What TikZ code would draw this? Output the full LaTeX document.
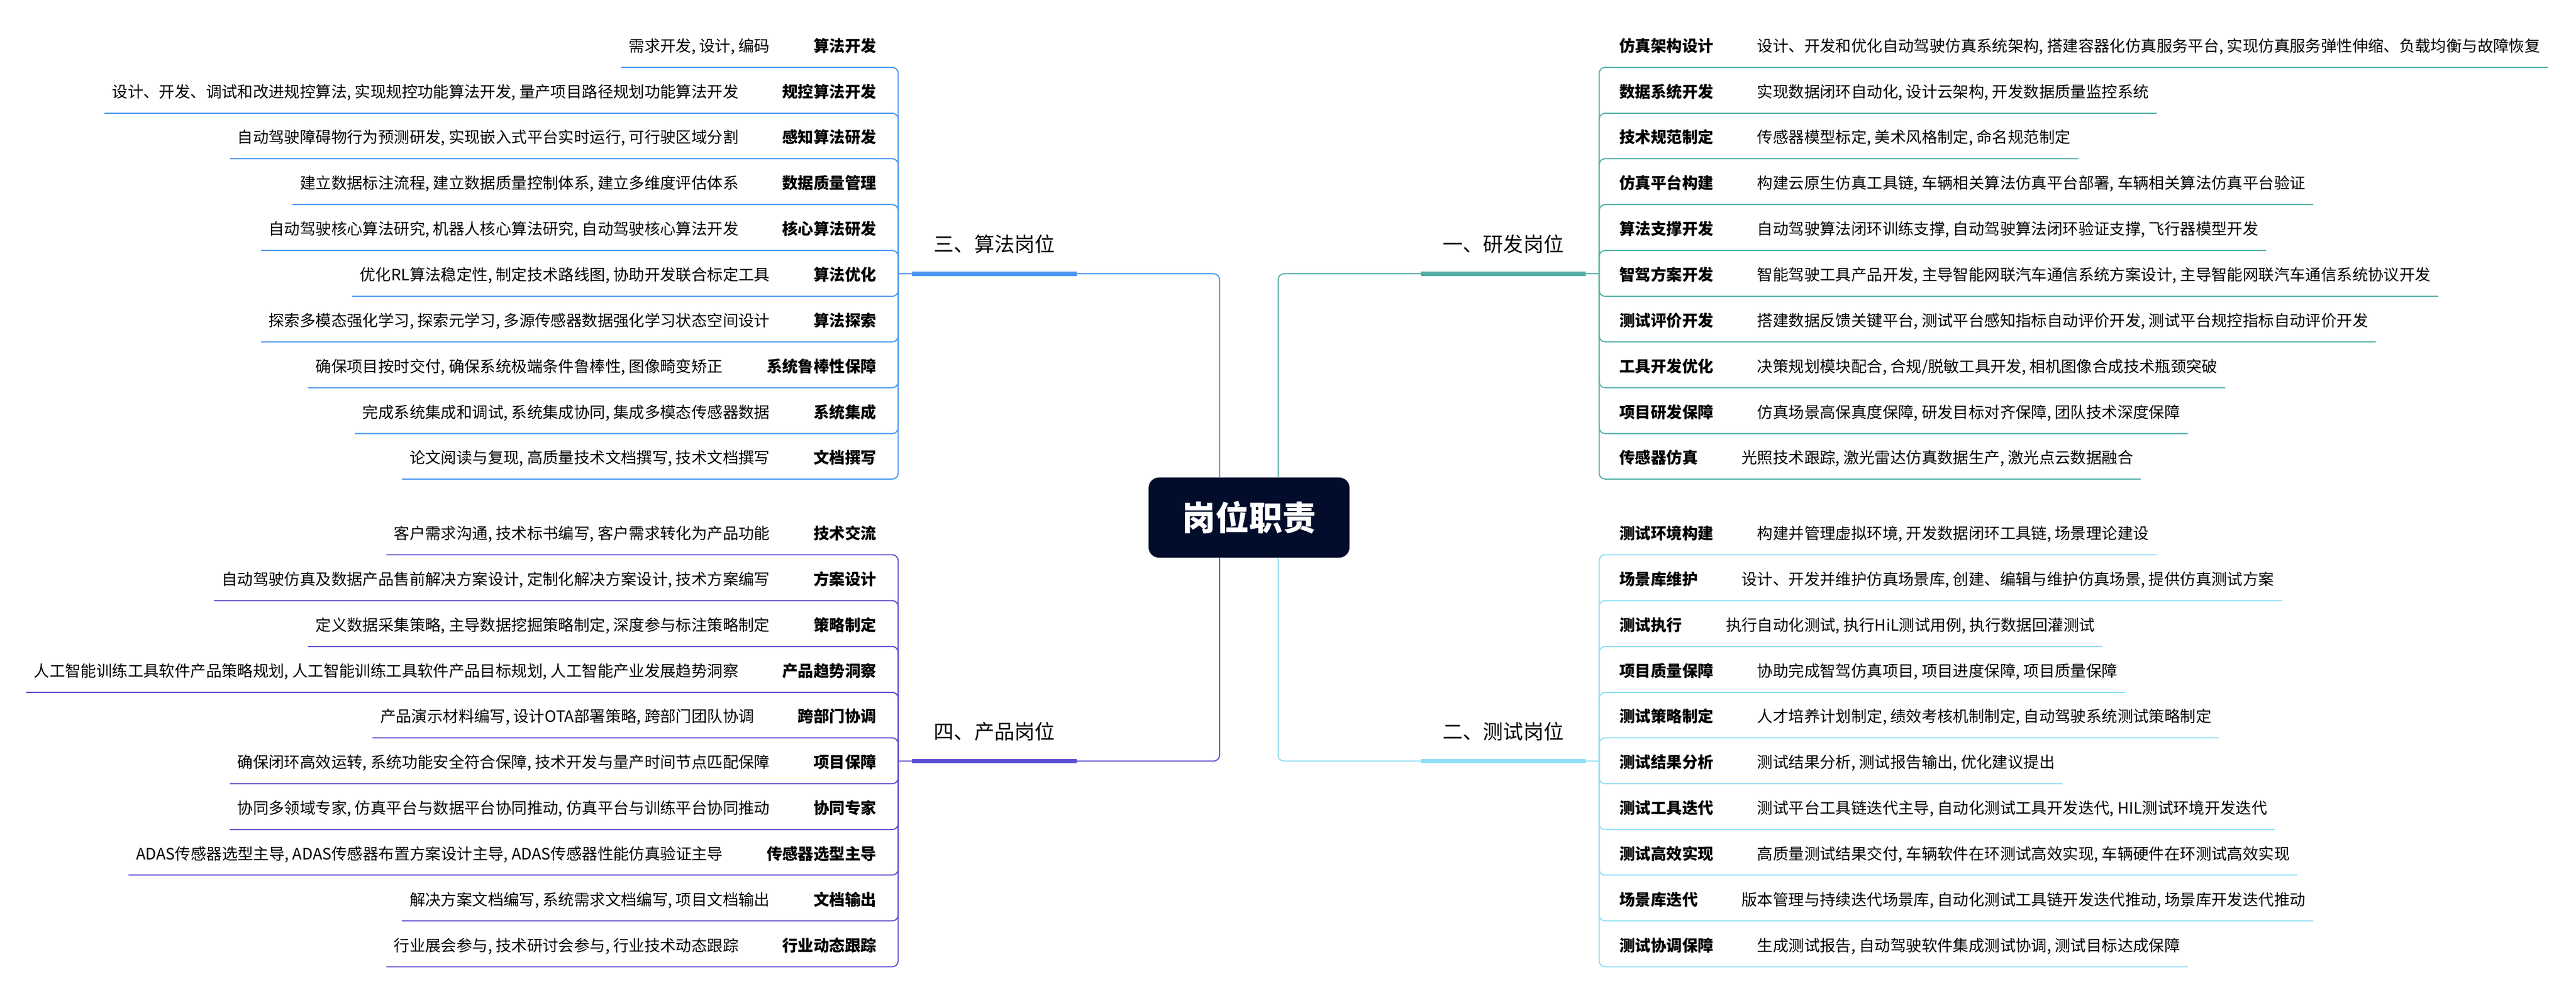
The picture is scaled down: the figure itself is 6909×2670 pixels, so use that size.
\documentclass[tikz,border=0pt]{standalone}
\usepackage{fontspec}
\setmainfont{Noto Sans CJK SC}
\usepackage{tikz}
\usetikzlibrary{calc}

\definecolor{hubnavy}{HTML}{020D2B}
\definecolor{rdteal}{HTML}{52B0A5}
\definecolor{qablue}{HTML}{8DDEF7}
\definecolor{algblue}{HTML}{4A97F1}
\definecolor{pmviolet}{HTML}{5B4FCF}

\tikzset{
  hub/.style={fill=hubnavy,text=white,rounded corners=2.8mm,minimum width=53.9mm,
    minimum height=21.5mm,font=\fontsize{9mm}{10mm}\selectfont\bfseries},
  branch/.style={inner xsep=5.8mm,inner ysep=5.2mm,text height=4.75mm,text depth=.65mm,
    font=\fontsize{5.4mm}{6mm}\selectfont},
  duty/.style={inner sep=0pt,text height=3.7mm,text depth=.5mm,
    font=\fontsize{4.2mm}{5mm}\selectfont\bfseries},
  detail/.style={inner xsep=2mm,inner ysep=3.6mm,text height=3.7mm,text depth=.5mm,
    font=\fontsize{4.2mm}{5mm}\selectfont},
  edge/.style={line width=.3mm,rounded corners=1.6mm},
  bar/.style={line width=1.2mm}
}

\begin{document}
\begin{tikzpicture}[x=.1mm,y=-.1mm]
          \fill[white] (0,0) rectangle (6909,2670);
          \useasboundingbox (0,0) rectangle (6909,2670);

          \node[hub] (hub) at (3350,1388) {岗位职责};

          \coordinate (rdj) at (4289,734);
          \coordinate (qaj) at (4289,2041);
          \coordinate (algj) at (2409,734);
          \coordinate (pmj) at (2409,2041);

          \tikzset{edge/.append style={rdteal},bar/.append style={rdteal}}
          \node[branch,anchor=south] (rd) at (4032,734) {一、研发岗位};
          \draw[edge] ($(hub.north)+(78,0)$) |- (rdj);
          \draw[bar] (rd.south west) -- (rd.south east);

          \node[duty,anchor=west] (rd1) at (4343,123) {仿真架构设计};
          \node[detail,anchor=west] (rd1t) at ($(rd1.east)+(96,0)$) {设计、开发和优化自动驾驶仿真系统架构, 搭建容器化仿真服务平台, 实现仿真服务弹性伸缩、负载均衡与故障恢复};
          \node[duty,anchor=west] (rd2) at (4343,246) {数据系统开发};
          \node[detail,anchor=west] (rd2t) at ($(rd2.east)+(96,0)$) {实现数据闭环自动化, 设计云架构, 开发数据质量监控系统};
          \node[duty,anchor=west] (rd3) at (4343,368) {技术规范制定};
          \node[detail,anchor=west] (rd3t) at ($(rd3.east)+(96,0)$) {传感器模型标定, 美术风格制定, 命名规范制定};
          \node[duty,anchor=west] (rd4) at (4343,491) {仿真平台构建};
          \node[detail,anchor=west] (rd4t) at ($(rd4.east)+(96,0)$) {构建云原生仿真工具链, 车辆相关算法仿真平台部署, 车辆相关算法仿真平台验证};
          \node[duty,anchor=west] (rd5) at (4343,614) {算法支撑开发};
          \node[detail,anchor=west] (rd5t) at ($(rd5.east)+(96,0)$) {自动驾驶算法闭环训练支撑, 自动驾驶算法闭环验证支撑, 飞行器模型开发};
          \node[duty,anchor=west] (rd6) at (4343,737) {智驾方案开发};
          \node[detail,anchor=west] (rd6t) at ($(rd6.east)+(96,0)$) {智能驾驶工具产品开发, 主导智能网联汽车通信系统方案设计, 主导智能网联汽车通信系统协议开发};
          \node[duty,anchor=west] (rd7) at (4343,859) {测试评价开发};
          \node[detail,anchor=west] (rd7t) at ($(rd7.east)+(96,0)$) {搭建数据反馈关键平台, 测试平台感知指标自动评价开发, 测试平台规控指标自动评价开发};
          \node[duty,anchor=west] (rd8) at (4343,982) {工具开发优化};
          \node[detail,anchor=west] (rd8t) at ($(rd8.east)+(96,0)$) {决策规划模块配合, 合规/脱敏工具开发, 相机图像合成技术瓶颈突破};
          \node[duty,anchor=west] (rd9) at (4343,1105) {项目研发保障};
          \node[detail,anchor=west] (rd9t) at ($(rd9.east)+(96,0)$) {仿真场景高保真度保障, 研发目标对齐保障, 团队技术深度保障};
          \node[duty,anchor=west] (rd10) at (4343,1227) {传感器仿真};
          \node[detail,anchor=west] (rd10t) at ($(rd10.east)+(96,0)$) {光照技术跟踪, 激光雷达仿真数据生产, 激光点云数据融合};

          \draw[edge] (rdj) |- (rd1t.south east);
          \draw[edge] (rdj) |- (rd2t.south east);
          \draw[edge] (rdj) |- (rd3t.south east);
          \draw[edge] (rdj) |- (rd4t.south east);
          \draw[edge] (rdj) |- (rd5t.south east);
          \draw[edge] (rdj) |- (rd6t.south east);
          \draw[edge] (rdj) |- (rd7t.south east);
          \draw[edge] (rdj) |- (rd8t.south east);
          \draw[edge] (rdj) |- (rd9t.south east);
          \draw[edge] (rdj) |- (rd10t.south east);

          \tikzset{edge/.append style={qablue},bar/.append style={qablue}}
          \node[branch,anchor=south] (qa) at (4032,2041) {二、测试岗位};
          \draw[edge] ($(hub.south)+(78,0)$) |- (qaj);
          \draw[bar] (qa.south west) -- (qa.south east);

          \node[duty,anchor=west] (qa1) at (4343,1430) {测试环境构建};
          \node[detail,anchor=west] (qa1t) at ($(qa1.east)+(96,0)$) {构建并管理虚拟环境, 开发数据闭环工具链, 场景理论建设};
          \node[duty,anchor=west] (qa2) at (4343,1553) {场景库维护};
          \node[detail,anchor=west] (qa2t) at ($(qa2.east)+(96,0)$) {设计、开发并维护仿真场景库, 创建、编辑与维护仿真场景, 提供仿真测试方案};
          \node[duty,anchor=west] (qa3) at (4343,1676) {测试执行};
          \node[detail,anchor=west] (qa3t) at ($(qa3.east)+(96,0)$) {执行自动化测试, 执行HiL测试用例, 执行数据回灌测试};
          \node[duty,anchor=west] (qa4) at (4343,1799) {项目质量保障};
          \node[detail,anchor=west] (qa4t) at ($(qa4.east)+(96,0)$) {协助完成智驾仿真项目, 项目进度保障, 项目质量保障};
          \node[duty,anchor=west] (qa5) at (4343,1921) {测试策略制定};
          \node[detail,anchor=west] (qa5t) at ($(qa5.east)+(96,0)$) {人才培养计划制定, 绩效考核机制制定, 自动驾驶系统测试策略制定};
          \node[duty,anchor=west] (qa6) at (4343,2044) {测试结果分析};
          \node[detail,anchor=west] (qa6t) at ($(qa6.east)+(96,0)$) {测试结果分析, 测试报告输出, 优化建议提出};
          \node[duty,anchor=west] (qa7) at (4343,2167) {测试工具迭代};
          \node[detail,anchor=west] (qa7t) at ($(qa7.east)+(96,0)$) {测试平台工具链迭代主导, 自动化测试工具开发迭代, HIL测试环境开发迭代};
          \node[duty,anchor=west] (qa8) at (4343,2289) {测试高效实现};
          \node[detail,anchor=west] (qa8t) at ($(qa8.east)+(96,0)$) {高质量测试结果交付, 车辆软件在环测试高效实现, 车辆硬件在环测试高效实现};
          \node[duty,anchor=west] (qa9) at (4343,2412) {场景库迭代};
          \node[detail,anchor=west] (qa9t) at ($(qa9.east)+(96,0)$) {版本管理与持续迭代场景库, 自动化测试工具链开发迭代推动, 场景库开发迭代推动};
          \node[duty,anchor=west] (qa10) at (4343,2535) {测试协调保障};
          \node[detail,anchor=west] (qa10t) at ($(qa10.east)+(96,0)$) {生成测试报告, 自动驾驶软件集成测试协调, 测试目标达成保障};

          \draw[edge] (qaj) |- (qa1t.south east);
          \draw[edge] (qaj) |- (qa2t.south east);
          \draw[edge] (qaj) |- (qa3t.south east);
          \draw[edge] (qaj) |- (qa4t.south east);
          \draw[edge] (qaj) |- (qa5t.south east);
          \draw[edge] (qaj) |- (qa6t.south east);
          \draw[edge] (qaj) |- (qa7t.south east);
          \draw[edge] (qaj) |- (qa8t.south east);
          \draw[edge] (qaj) |- (qa9t.south east);
          \draw[edge] (qaj) |- (qa10t.south east);

          \tikzset{edge/.append style={algblue},bar/.append style={algblue}}
          \node[branch,anchor=south] (alg) at (2667,734) {三、算法岗位};
          \draw[edge] ($(hub.north)+(-79,0)$) |- (algj);
          \draw[bar] (alg.south west) -- (alg.south east);

          \node[duty,anchor=east] (alg1) at (2351,123) {算法开发};
          \node[detail,anchor=east] (alg1t) at ($(alg1.west)+(-96,0)$) {需求开发, 设计, 编码};
          \node[duty,anchor=east] (alg2) at (2351,246) {规控算法开发};
          \node[detail,anchor=east] (alg2t) at ($(alg2.west)+(-96,0)$) {设计、开发、调试和改进规控算法, 实现规控功能算法开发, 量产项目路径规划功能算法开发};
          \node[duty,anchor=east] (alg3) at (2351,368) {感知算法研发};
          \node[detail,anchor=east] (alg3t) at ($(alg3.west)+(-96,0)$) {自动驾驶障碍物行为预测研发, 实现嵌入式平台实时运行, 可行驶区域分割};
          \node[duty,anchor=east] (alg4) at (2351,491) {数据质量管理};
          \node[detail,anchor=east] (alg4t) at ($(alg4.west)+(-96,0)$) {建立数据标注流程, 建立数据质量控制体系, 建立多维度评估体系};
          \node[duty,anchor=east] (alg5) at (2351,614) {核心算法研发};
          \node[detail,anchor=east] (alg5t) at ($(alg5.west)+(-96,0)$) {自动驾驶核心算法研究, 机器人核心算法研究, 自动驾驶核心算法开发};
          \node[duty,anchor=east] (alg6) at (2351,737) {算法优化};
          \node[detail,anchor=east] (alg6t) at ($(alg6.west)+(-96,0)$) {优化RL算法稳定性, 制定技术路线图, 协助开发联合标定工具};
          \node[duty,anchor=east] (alg7) at (2351,859) {算法探索};
          \node[detail,anchor=east] (alg7t) at ($(alg7.west)+(-96,0)$) {探索多模态强化学习, 探索元学习, 多源传感器数据强化学习状态空间设计};
          \node[duty,anchor=east] (alg8) at (2351,982) {系统鲁棒性保障};
          \node[detail,anchor=east] (alg8t) at ($(alg8.west)+(-96,0)$) {确保项目按时交付, 确保系统极端条件鲁棒性, 图像畸变矫正};
          \node[duty,anchor=east] (alg9) at (2351,1105) {系统集成};
          \node[detail,anchor=east] (alg9t) at ($(alg9.west)+(-96,0)$) {完成系统集成和调试, 系统集成协同, 集成多模态传感器数据};
          \node[duty,anchor=east] (alg10) at (2351,1227) {文档撰写};
          \node[detail,anchor=east] (alg10t) at ($(alg10.west)+(-96,0)$) {论文阅读与复现, 高质量技术文档撰写, 技术文档撰写};

          \draw[edge] (algj) |- (alg1t.south west);
          \draw[edge] (algj) |- (alg2t.south west);
          \draw[edge] (algj) |- (alg3t.south west);
          \draw[edge] (algj) |- (alg4t.south west);
          \draw[edge] (algj) |- (alg5t.south west);
          \draw[edge] (algj) |- (alg6t.south west);
          \draw[edge] (algj) |- (alg7t.south west);
          \draw[edge] (algj) |- (alg8t.south west);
          \draw[edge] (algj) |- (alg9t.south west);
          \draw[edge] (algj) |- (alg10t.south west);

          \tikzset{edge/.append style={pmviolet},bar/.append style={pmviolet}}
          \node[branch,anchor=south] (pm) at (2667,2041) {四、产品岗位};
          \draw[edge] ($(hub.south)+(-79,0)$) |- (pmj);
          \draw[bar] (pm.south west) -- (pm.south east);

          \node[duty,anchor=east] (pm1) at (2351,1430) {技术交流};
          \node[detail,anchor=east] (pm1t) at ($(pm1.west)+(-96,0)$) {客户需求沟通, 技术标书编写, 客户需求转化为产品功能};
          \node[duty,anchor=east] (pm2) at (2351,1553) {方案设计};
          \node[detail,anchor=east] (pm2t) at ($(pm2.west)+(-96,0)$) {自动驾驶仿真及数据产品售前解决方案设计, 定制化解决方案设计, 技术方案编写};
          \node[duty,anchor=east] (pm3) at (2351,1676) {策略制定};
          \node[detail,anchor=east] (pm3t) at ($(pm3.west)+(-96,0)$) {定义数据采集策略, 主导数据挖掘策略制定, 深度参与标注策略制定};
          \node[duty,anchor=east] (pm4) at (2351,1799) {产品趋势洞察};
          \node[detail,anchor=east] (pm4t) at ($(pm4.west)+(-96,0)$) {人工智能训练工具软件产品策略规划, 人工智能训练工具软件产品目标规划, 人工智能产业发展趋势洞察};
          \node[duty,anchor=east] (pm5) at (2351,1921) {跨部门协调};
          \node[detail,anchor=east] (pm5t) at ($(pm5.west)+(-96,0)$) {产品演示材料编写, 设计OTA部署策略, 跨部门团队协调};
          \node[duty,anchor=east] (pm6) at (2351,2044) {项目保障};
          \node[detail,anchor=east] (pm6t) at ($(pm6.west)+(-96,0)$) {确保闭环高效运转, 系统功能安全符合保障, 技术开发与量产时间节点匹配保障};
          \node[duty,anchor=east] (pm7) at (2351,2167) {协同专家};
          \node[detail,anchor=east] (pm7t) at ($(pm7.west)+(-96,0)$) {协同多领域专家, 仿真平台与数据平台协同推动, 仿真平台与训练平台协同推动};
          \node[duty,anchor=east] (pm8) at (2351,2289) {传感器选型主导};
          \node[detail,anchor=east] (pm8t) at ($(pm8.west)+(-96,0)$) {ADAS传感器选型主导, ADAS传感器布置方案设计主导, ADAS传感器性能仿真验证主导};
          \node[duty,anchor=east] (pm9) at (2351,2412) {文档输出};
          \node[detail,anchor=east] (pm9t) at ($(pm9.west)+(-96,0)$) {解决方案文档编写, 系统需求文档编写, 项目文档输出};
          \node[duty,anchor=east] (pm10) at (2351,2535) {行业动态跟踪};
          \node[detail,anchor=east] (pm10t) at ($(pm10.west)+(-96,0)$) {行业展会参与, 技术研讨会参与, 行业技术动态跟踪};

          \draw[edge] (pmj) |- (pm1t.south west);
          \draw[edge] (pmj) |- (pm2t.south west);
          \draw[edge] (pmj) |- (pm3t.south west);
          \draw[edge] (pmj) |- (pm4t.south west);
          \draw[edge] (pmj) |- (pm5t.south west);
          \draw[edge] (pmj) |- (pm6t.south west);
          \draw[edge] (pmj) |- (pm7t.south west);
          \draw[edge] (pmj) |- (pm8t.south west);
          \draw[edge] (pmj) |- (pm9t.south west);
          \draw[edge] (pmj) |- (pm10t.south west);
        \end{tikzpicture}
\end{document}
